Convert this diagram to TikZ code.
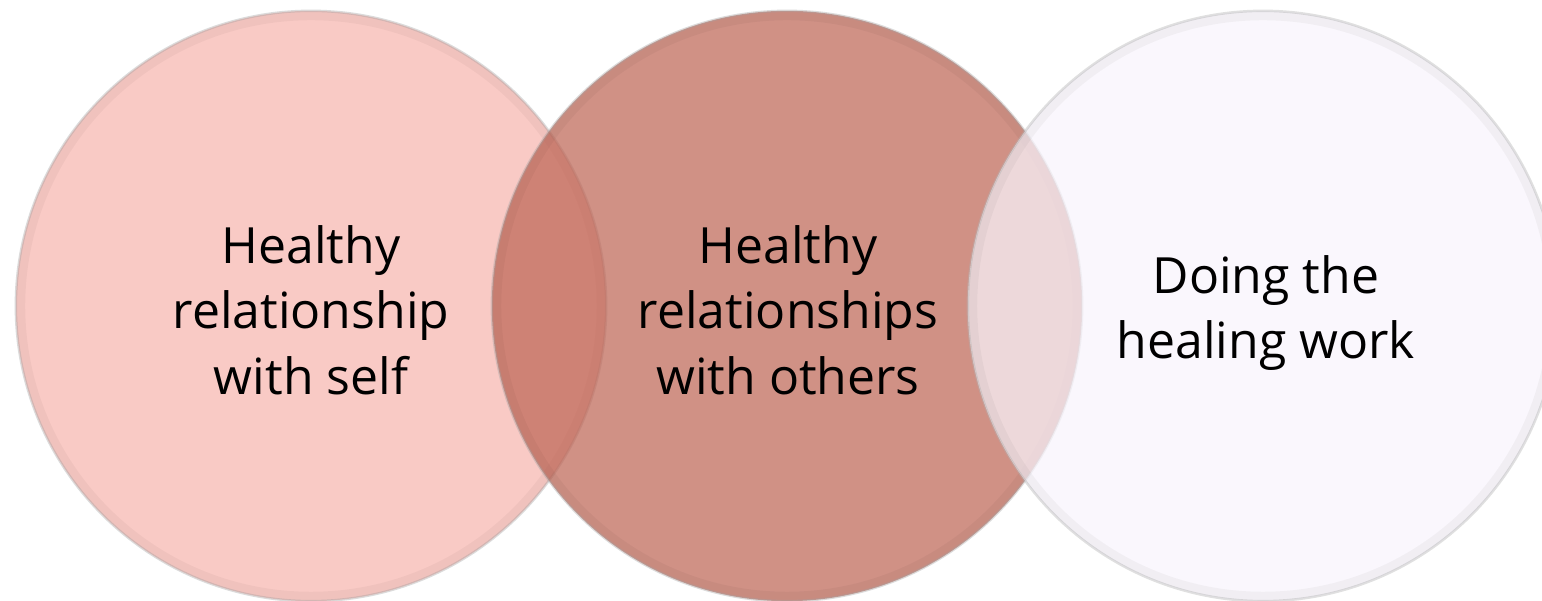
\documentclass[tikz,border=0pt]{standalone}
\usepackage{fontspec}
\setmainfont{Open Sans}
\usepackage{xcolor}
\usepackage{tikz}
\definecolor{selfpink}{RGB}{247,181,174}
\definecolor{otherrose}{RGB}{190,102,86}
\definecolor{healwhite}{RGB}{248,244,252}

\begin{document}
\begin{tikzpicture}[x=0.01cm, y=-0.01cm]
    \tikzstyle{bubble}=[circle, minimum size=5.9cm, inner sep=0pt, fill opacity=0.72, text opacity=1, draw=black!35, draw opacity=0.4, line width=0.7pt]
    \tikzstyle{rim}=[circle, minimum size=5.8cm, inner sep=0pt, draw=black, draw opacity=0.035, line width=2.5pt]
    \tikzstyle{label}=[align=center, font=\fontsize{14.2}{18.6}\selectfont]

    \useasboundingbox (0,0) rectangle (1542,601);
    \clip (0,0) rectangle (1542,601);

    \node[bubble, fill=selfpink](self) at (311,306) {};
    \node[rim](selfrim) at (self.center) {};
    \node[bubble, fill=otherrose](others) at (787,306) {};
    \node[rim](othersrim) at (others.center) {};
    \node[bubble, fill=healwhite, draw=black!30](healing) at (1263,306) {};
    \node[rim](healingrim) at (healing.center) {};

    % labels on top of the circles
    \node[label](selftext) at (311,310) {Healthy\\relationship\\with self};
    \node[label](otherstext) at (788,310) {Healthy\\relationships\\with others};
    \node[label](healingtext) at (1266,313) {Doing the\\healing work};

\end{tikzpicture}
\end{document}
